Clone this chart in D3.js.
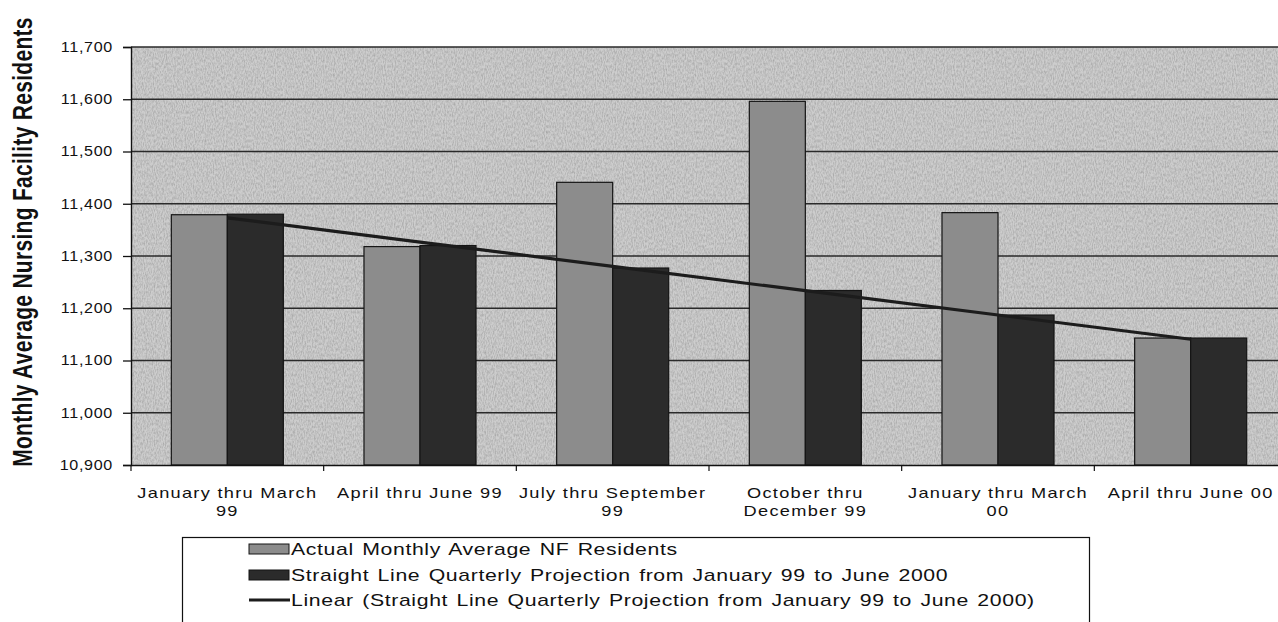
<!DOCTYPE html>
<html>
<head>
<meta charset="utf-8">
<script src="https://cdn.jsdelivr.net/npm/d3@7"></script>
<style>
  html, body { margin: 0; padding: 0; background: #ffffff; }
  svg { display: block; }
  text { font-family: "Liberation Sans", Arial, sans-serif; fill: #111; }
</style>
</head>
<body>
<svg id="chart" width="1278" height="622"></svg>
<script>
// Quarterly nursing facility residents, Jan 1999 – Jun 2000
const categories = [
  "January thru March\n99",
  "April thru June 99",
  "July thru September\n99",
  "October thru\nDecember 99",
  "January thru March\n00",
  "April thru June 00"
];
const actualResidents    = [11379, 11318, 11441, 11596, 11383, 11143];
const projectedResidents = [11380, 11320, 11277, 11234, 11187, 11143];
const yTicks = [10900, 11000, 11100, 11200, 11300, 11400, 11500, 11600, 11700];
const seriesKeys = ["actual", "projected"];
const legendLabels = [
  "Actual Monthly Average NF Residents",
  "Straight Line Quarterly Projection from January 99 to June 2000",
  "Linear (Straight Line Quarterly Projection from January 99 to June 2000)"
];
const yTitle = "Monthly Average Nursing Facility Residents";

const svg = d3.select("#chart");
const plot = { left: 131, right: 1287, top: 47, bottom: 465 };

const x = d3.scaleBand().domain(categories).range([plot.left, plot.right]).padding(0);
const xSub = d3.scaleBand().domain(seriesKeys).range([0, x.bandwidth()])
  .paddingInner(0).paddingOuter(0.72);
const y = d3.scaleLinear().domain([10900, 11700]).range([plot.bottom, plot.top]);

const colors = { actual: "#8c8c8c", projected: "#2b2b2b" };

// grain texture for the printed gray fills
const defs = svg.append("defs");
const grain = defs.append("filter").attr("id", "grain")
  .attr("x", 0).attr("y", 0).attr("width", "100%").attr("height", "100%");
grain.append("feTurbulence").attr("type", "fractalNoise")
  .attr("baseFrequency", "0.9 0.35").attr("numOctaves", 2).attr("seed", 7).attr("result", "n");
grain.append("feColorMatrix").attr("in", "n").attr("type", "matrix")
  .attr("values", "0 0 0 0 0  0 0 0 0 0  0 0 0 0 0  0 0 0 -1.6 1.05");

// plot area
svg.append("rect")
  .attr("x", plot.left).attr("y", plot.top)
  .attr("width", plot.right - plot.left).attr("height", plot.bottom - plot.top)
  .attr("fill", "#cdcdcd");
svg.append("rect")
  .attr("x", plot.left).attr("y", plot.top)
  .attr("width", plot.right - plot.left).attr("height", plot.bottom - plot.top)
  .attr("fill", "#000").attr("opacity", 0.2).attr("filter", "url(#grain)");

// horizontal gridlines
svg.append("g").selectAll("line").data(yTicks.slice(1)).join("line")
  .attr("x1", plot.left).attr("x2", plot.right)
  .attr("y1", d => y(d)).attr("y2", d => y(d))
  .attr("stroke", "#2a2a2a").attr("stroke-width", 1.3);

// bars
const groups = svg.append("g").selectAll("g").data(categories).join("g")
  .attr("transform", d => `translate(${x(d)},0)`);
groups.selectAll("rect").data((d, i) => [
  { key: "actual", value: actualResidents[i] },
  { key: "projected", value: projectedResidents[i] }
]).join("rect")
  .attr("x", d => xSub(d.key))
  .attr("width", xSub.bandwidth())
  .attr("y", d => y(d.value))
  .attr("height", d => y(10900) - y(d.value))
  .attr("fill", d => colors[d.key])
  .attr("stroke", "#151515").attr("stroke-width", 1.2);

// linear trend of the projection series, drawn through category centres
const n = projectedResidents.length;
const xs = d3.range(1, n + 1);
const mx = d3.mean(xs), my = d3.mean(projectedResidents);
const slope = d3.sum(xs, (v, i) => (v - mx) * (projectedResidents[i] - my)) / d3.sum(xs, v => (v - mx) ** 2);
const intercept = my - slope * mx;
const trend = categories.map((c, i) => ({ c, v: intercept + slope * (i + 1) }));
svg.append("path").datum(trend)
  .attr("d", d3.line().x(d => x(d.c) + x.bandwidth() / 2).y(d => y(d.v)))
  .attr("fill", "none").attr("stroke", "#1c1c1c").attr("stroke-width", 3.2);

// y axis
const yAxis = svg.append("g").attr("transform", `translate(${plot.left},0)`)
  .call(d3.axisLeft(y).tickValues(yTicks).tickSize(8).tickPadding(10).tickFormat(d3.format(",")));
yAxis.select(".domain").attr("stroke", "#111").attr("stroke-width", 1.4);
yAxis.selectAll(".tick line").attr("stroke", "#111").attr("stroke-width", 1.3);
const tickScale = 1.15;
yAxis.selectAll(".tick text")
  .attr("x", -18 / tickScale)
  .attr("transform", `scale(${tickScale},1)`)
  .style("font-size", "14px").style("letter-spacing", "0.6px")
  .attr("fill", "#111").style("font-family", "'Liberation Sans', Arial, sans-serif");

// x axis: baseline, boundary ticks and wrapped category labels
const xAxis = svg.append("g").attr("transform", `translate(0,${plot.bottom})`)
  .call(d3.axisBottom(x).tickSize(0).tickFormat(""));
xAxis.select(".domain").attr("stroke", "#111").attr("stroke-width", 1.4);
const bounds = categories.map(c => x(c)).concat([x(categories[n - 1]) + x.bandwidth()]);
svg.append("g").selectAll("line").data(bounds).join("line")
  .attr("x1", d => d).attr("x2", d => d)
  .attr("y1", plot.bottom).attr("y2", plot.bottom + 6)
  .attr("stroke", "#111").attr("stroke-width", 1.2);

const catScale = 1.3;
xAxis.selectAll(".tick").each(function (d) {
  const g = d3.select(this);
  g.select("text").remove();
  const t = g.append("text")
    .attr("text-anchor", "middle")
    .attr("transform", `scale(${catScale},1)`)
    .style("font-size", "14px").style("letter-spacing", "1px");
  d.split("\n").forEach((line, k) => {
    t.append("tspan").attr("x", 0).attr("y", 33 + k * 18).text(line);
  });
});

// y axis title
svg.append("text")
  .attr("transform", "translate(22,242) scale(1.3,1) rotate(-90)")
  .attr("text-anchor", "middle").attr("dominant-baseline", "central")
  .style("font-size", "21px").style("font-weight", "bold").style("letter-spacing", "0.3px")
  .text(yTitle);

// legend
const legend = svg.append("g");
legend.append("rect")
  .attr("x", 182.5).attr("y", 537.5).attr("width", 907).attr("height", 120)
  .attr("fill", "#fff").attr("stroke", "#111").attr("stroke-width", 1.2);
const rowY = [549, 575, 600];
const legendKinds = ["actual", "projected", "trend"];
legendKinds.forEach((k, i) => {
  if (k === "trend") {
    legend.append("line").attr("x1", 249).attr("x2", 290)
      .attr("y1", rowY[i]).attr("y2", rowY[i])
      .attr("stroke", "#1c1c1c").attr("stroke-width", 3.2);
  } else {
    legend.append("rect").attr("x", 249).attr("y", rowY[i] - 5)
      .attr("width", 40).attr("height", 10)
      .attr("fill", colors[k]).attr("stroke", "#151515").attr("stroke-width", 1);
  }
  legend.append("text")
    .attr("transform", `translate(291,${rowY[i]}) scale(1.25,1)`)
    .attr("dominant-baseline", "central")
    .style("font-size", "17px").style("letter-spacing", "0.5px").style("word-spacing", "1.5px")
    .text(legendLabels[i]);
});
</script>
</body>
</html>
